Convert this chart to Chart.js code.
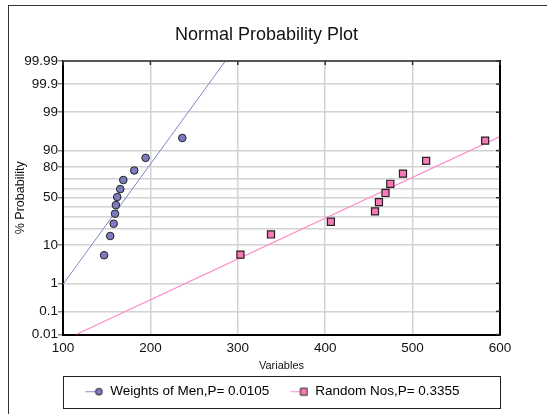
<!DOCTYPE html>
<html>
<head>
<meta charset="utf-8">
<script src="https://cdn.jsdelivr.net/npm/chart.js@4.4.1/dist/chart.umd.min.js"></script>
<style>
html, body { margin: 0; padding: 0; background: #fff; overflow: hidden; }
canvas { display: block; }
</style>
</head>
<body>
<canvas id="npp" width="547" height="414"></canvas>
<script>
var chartTitle = 'Normal Probability Plot';
var xTitle = 'Variables';
var yTitle = '% Probability';
var seriesNames = ['Weights of Men,P= 0.0105', 'Random Nos,P= 0.3355'];

// points (x value, % probability)
var menWeights = [147, 154, 158, 159.5, 160.5, 162, 165.5, 169, 181.5, 194.5, 236.5];
var menProb = [5.9, 14.9, 24.0, 33.2, 42.1, 50.8, 59.3, 68.5, 77.1, 86.1, 94.8];
var randomNos = [303, 338, 406.5, 457, 461.5, 469, 474.5, 489, 515.5, 583];
var randomProb = [6.1, 15.9, 25.7, 35.5, 45.3, 55.2, 64.8, 74.4, 84.2, 94.0];

// fitted normal lines, ends of each
var menFitX = [100, 285.8];
var menFitProb = [0.93, 99.99];
var randomFitX = [114.9, 600];
var randomFitProb = [0.01, 95.2];

var xTicks = [100, 200, 300, 400, 500, 600];
var probGrid = [0.01, 0.1, 1, 10, 20, 30, 40, 50, 60, 70, 80, 90, 99, 99.9, 99.99];
var probLabels = [0.01, 0.1, 1, 10, 50, 80, 90, 99, 99.9, 99.99];

var FONT = 'Arial, "Liberation Sans", sans-serif';
var menLine = '#8484cc', menFill = '#7b7bc0';
var rndLine = '#ff8cc8', rndFill = '#f878b8';

// inverse normal cdf (Acklam)
function probit(p) {
    var a = [-3.969683028665376e+01, 2.209460984245205e+02, -2.759285104469687e+02, 1.383577518672690e+02, -3.066479806614716e+01, 2.506628277459239e+00];
    var b = [-5.447609879822406e+01, 1.615858368580409e+02, -1.556989798598866e+02, 6.680131188771972e+01, -1.328068155288572e+01];
    var c = [-7.784894002430293e-03, -3.223964580411365e-01, -2.400758277161838e+00, -2.549732539343734e+00, 4.374664141464968e+00, 2.938163982698783e+00];
    var d = [7.784695709041462e-03, 3.224671290700398e-01, 2.445134137142996e+00, 3.754408661907416e+00];
    var q, r;
    if (p < 0.02425) {
        q = Math.sqrt(-2 * Math.log(p));
        return (((((c[0]*q+c[1])*q+c[2])*q+c[3])*q+c[4])*q+c[5]) / ((((d[0]*q+d[1])*q+d[2])*q+d[3])*q+1);
    }
    if (p > 1 - 0.02425) {
        q = Math.sqrt(-2 * Math.log(1 - p));
        return -(((((c[0]*q+c[1])*q+c[2])*q+c[3])*q+c[4])*q+c[5]) / ((((d[0]*q+d[1])*q+d[2])*q+d[3])*q+1);
    }
    q = p - 0.5; r = q * q;
    return (((((a[0]*r+a[1])*r+a[2])*r+a[3])*r+a[4])*r+a[5])*q / (((((b[0]*r+b[1])*r+b[2])*r+b[3])*r+b[4])*r+1);
}

function normCdf(z) {
    var t = 1 / (1 + 0.2316419 * Math.abs(z));
    var y = 1 - 0.3989423 * Math.exp(-z * z / 2) * t * (0.3193815 + t * (-0.3565638 + t * (1.781478 + t * (-1.821256 + t * 1.330274))));
    return z >= 0 ? y : 1 - y;
}

// probability-paper axis: values in %, spaced by their normal quantile
class ProbitScale extends Chart.LinearScale {
    determineDataLimits() {
        this.min = this.options.min;
        this.max = this.options.max;
    }
    buildTicks() {
        return probGrid.map(function (v) { return { value: v }; });
    }
    configure() {
        super.configure();
        this._zLo = probit(this.min / 100);
        this._zHi = probit(this.max / 100);
    }
    getPixelForValue(v) {
        return this.getPixelForDecimal((probit(v / 100) - this._zLo) / (this._zHi - this._zLo));
    }
    getValueForPixel(px) {
        var dec = this.getDecimalForPixel(px);
        return 100 * normCdf(this._zLo + dec * (this._zHi - this._zLo));
    }
}
ProbitScale.id = 'probit';
ProbitScale.defaults = {};
Chart.register(ProbitScale);

function pairs(xs, ys) {
    return xs.map(function (x, i) { return { x: x, y: ys[i] }; });
}

function legendIcon(lineColor, fill, shape) {
    var c = document.createElement('canvas');
    c.width = 30; c.height = 12;
    var g = c.getContext('2d');
    g.strokeStyle = lineColor; g.lineWidth = 1;
    g.beginPath(); g.moveTo(12, 6.5); g.lineTo(25, 6.5); g.stroke();
    g.fillStyle = fill; g.strokeStyle = '#222';
    g.beginPath();
    if (shape === 'circle') g.arc(25.5, 6.5, 3.4, 0, Math.PI * 2);
    else g.rect(22, 3, 7, 7);
    g.fill(); g.stroke();
    return c;
}

var frame = {
    id: 'frame',
    beforeDraw: function (chart) {
        var ctx = chart.ctx;
        ctx.save();
        ctx.fillStyle = '#fff';
        ctx.fillRect(0, 0, chart.width, chart.height);
        ctx.strokeStyle = '#333'; ctx.lineWidth = 1;
        ctx.strokeRect(8.5, 5.5, 700, 700);
        ctx.restore();
    },
    afterDraw: function (chart) {
        var ctx = chart.ctx, a = chart.chartArea;
        var xs = chart.scales.x, ys = chart.scales.y;
        ctx.save();
        ctx.lineWidth = 2;
        ctx.strokeStyle = '#555';
        ctx.beginPath(); ctx.moveTo(a.left, a.top); ctx.lineTo(a.right, a.top); ctx.stroke();
        ctx.strokeStyle = '#000';
        ctx.beginPath(); ctx.moveTo(a.right, a.top - 1); ctx.lineTo(a.right, a.bottom + 1); ctx.stroke();
        ctx.lineWidth = 1.5; ctx.strokeStyle = '#333';
        ys.ticks.forEach(function (t) {
            if (probLabels.indexOf(t.value) < 0) return;
            var py = ys.getPixelForValue(t.value);
            ctx.beginPath(); ctx.moveTo(a.right - 4, py); ctx.lineTo(a.right, py); ctx.stroke();
        });
        xs.ticks.forEach(function (t) {
            var px = xs.getPixelForValue(t.value);
            ctx.beginPath(); ctx.moveTo(px, a.top); ctx.lineTo(px, a.top + 4); ctx.stroke();
        });
        // legend box
        var lg = chart.legend;
        ctx.lineWidth = 1; ctx.strokeStyle = '#222';
        ctx.strokeRect(Math.round(a.left) + 0.5, Math.round(lg.top) + 0.5, Math.round(a.right - a.left), Math.round(lg.bottom - lg.top) - 1);
        ctx.restore();
    }
};

var ctx = document.getElementById('npp');
new Chart(ctx, {
    type: 'scatter',
    data: {
        datasets: [
            { label: seriesNames[0], data: pairs(menWeights, menProb), pointStyle: 'circle', pointRadius: 3.8,
              backgroundColor: menFill, borderColor: '#222', borderWidth: 1 },
            { label: seriesNames[1], data: pairs(randomNos, randomProb), pointStyle: 'rect', pointRadius: 5,
              backgroundColor: rndFill, borderColor: '#222', borderWidth: 1.2 },
            { label: 'men fit', data: pairs(menFitX, menFitProb), showLine: true, pointRadius: 0,
              borderColor: menLine, borderWidth: 1, order: 5 },
            { label: 'random fit', data: pairs(randomFitX, randomFitProb), showLine: true, pointRadius: 0,
              borderColor: rndLine, borderWidth: 1.2, order: 5 }
        ]
    },
    options: {
        responsive: false,
        animation: false,
        events: [],
        layout: { padding: { left: 0, right: 14, top: 0, bottom: 6 } },
        scales: {
            x: {
                type: 'linear', min: 100, max: 600,
                afterBuildTicks: function (s) { s.ticks = xTicks.map(function (v) { return { value: v }; }); },
                afterFit: function (s) { s.height = 41; },
                grid: { color: '#d2d2d2', lineWidth: 1.5, drawTicks: false },
                border: { color: '#000', width: 2 },
                ticks: { color: '#111', padding: 6, font: { family: FONT, size: 13.5 }, maxRotation: 0 },
                title: { display: true, text: xTitle, color: '#111', font: { family: FONT, size: 11 }, padding: { top: 0, bottom: 3 } }
            },
            y: {
                type: 'probit', min: 0.01, max: 99.99, position: 'left',
                afterFit: function (s) { s.width = 63; },
                grid: {
                    color: '#d2d2d2', lineWidth: 1.5, tickLength: 5,
                    tickColor: function (c) { return c.tick && probLabels.indexOf(c.tick.value) >= 0 ? '#888' : 'rgba(0,0,0,0)'; }
                },
                border: { color: '#000', width: 2 },
                ticks: {
                    autoSkip: false, padding: 0, color: '#111', font: { family: FONT, size: 13.5 },
                    callback: function (v) { return probLabels.indexOf(v) >= 0 ? String(v) : ''; }
                },
                title: { display: true, text: yTitle, color: '#111', font: { family: FONT, size: 12.5 }, padding: { top: 13, bottom: 0 } }
            },
            y2: {
                type: 'linear', position: 'right', min: 0, max: 1,
                afterFit: function (s) { s.width = 33; },
                grid: { display: false },
                border: { display: false },
                ticks: { display: false }
            }
        },
        plugins: {
            title: {
                display: true, text: chartTitle, color: '#111',
                font: { family: FONT, size: 18, weight: 'normal' },
                padding: { top: 24, bottom: 15.4 }
            },
            legend: {
                position: 'bottom',
                labels: {
                    usePointStyle: true, pointStyleWidth: 30, padding: 9, color: '#111',
                    font: { family: FONT, size: 13.5 },
                    generateLabels: function () {
                        return [
                            { text: seriesNames[0], pointStyle: legendIcon(menLine, menFill, 'circle'), fillStyle: menFill, strokeStyle: '#222', lineWidth: 0, hidden: false, datasetIndex: 0 },
                            { text: seriesNames[1], pointStyle: legendIcon(rndLine, rndFill, 'rect'), fillStyle: rndFill, strokeStyle: '#222', lineWidth: 0, hidden: false, datasetIndex: 1 }
                        ];
                    }
                }
            },
            tooltip: { enabled: false }
        }
    },
    plugins: [frame]
});
</script>
</body>
</html>
